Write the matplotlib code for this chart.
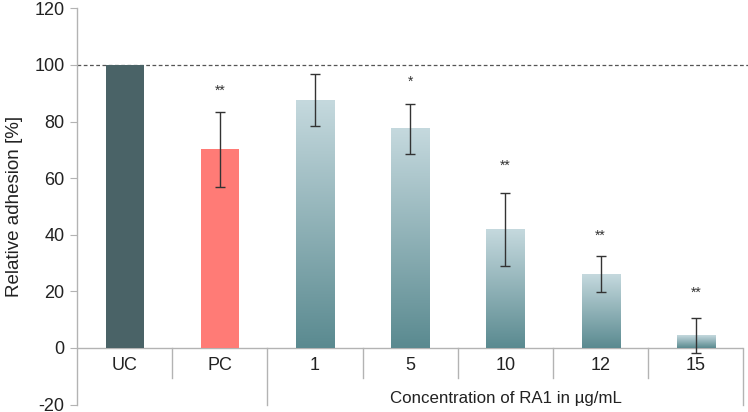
import numpy as np
import matplotlib
matplotlib.use("Agg")
import matplotlib.pyplot as plt
from matplotlib.colors import LinearSegmentedColormap

plt.rcParams['font.family'] = ['Liberation Sans', 'DejaVu Sans']
plt.rcParams['axes.unicode_minus'] = False

categories = ["UC", "PC", "1", "5", "10", "12", "15"]
values = [100, 70.2, 87.6, 77.4, 41.8, 26.1, 4.4]
errors = [0, 13.3, 9.2, 8.8, 13.0, 6.3, 6.1]
stars = ["", "**", "", "*", "**", "**", "**"]
star_y = [None, 91, None, 94, 64.5, 39.5, 19.5]
group_label = "Concentration of RA1 in µg/mL"
ylabel = "Relative adhesion [%]"
yticks = [-20, 0, 20, 40, 60, 80, 100, 120]

W, H = 748, 412
fig = plt.figure(figsize=(W / 100, H / 100), dpi=100)
ax = fig.add_axes([77 / W, 7.4 / H, (743.5 - 77) / W, (404.6 - 8.4) / H])

x = np.arange(len(categories))
ax.set_xlim(-0.5, len(categories) - 0.5)
ax.set_ylim(-20, 120)

axis_col = "#b3b3b3"
solid_colors = ["#4a6367", "#ff7b76"]
grad = LinearSegmentedColormap.from_list("g", ["#5a8a90", "#c5d9de"])

bars = ax.bar(x, values, width=0.4, color="none", edgecolor="none", zorder=2)
for i, b in enumerate(bars):
    x0, y0 = b.get_x(), b.get_y()
    w, h = b.get_width(), b.get_height()
    if i < 2:
        b.set_facecolor(solid_colors[i])
    else:
        g = np.linspace(0, 1, 256).reshape(-1, 1)
        ax.imshow(g, cmap=grad, origin="lower", aspect="auto",
                  extent=(x0, x0 + w, y0, y0 + h), zorder=2, interpolation="bicubic")

for i in range(1, len(categories)):
    ax.errorbar(x[i], values[i], yerr=errors[i], fmt="none", ecolor="#333333",
                elinewidth=1.0, capsize=3.5, capthick=1.0, zorder=3)
    if stars[i]:
        ax.text(x[i], star_y[i], stars[i], ha="center", va="center", fontsize=10, color="#333333")

# axes styling
for s in ["top", "right", "bottom"]:
    ax.spines[s].set_visible(False)
ax.spines["left"].set_color(axis_col)
ax.spines["left"].set_linewidth(1.0)
ax.set_yticks(yticks)
ax.tick_params(axis="y", colors=axis_col, length=5, labelsize=13, labelcolor="#222222", pad=4)
ax.set_xticks([])
ax.set_ylabel(ylabel, fontsize=13.5, color="#222222", labelpad=8)

# baseline at 0 and dashed reference at 100
ax.axhline(0, color=axis_col, lw=1.0, zorder=1)
ax.plot([-0.5, 6.6], [100, 100], ls=(0, (3, 2)), color="#555555", lw=0.9, zorder=1, clip_on=False)

# category separators
for sep in np.arange(0.5, len(categories) - 0.5 + 0.01, 1.0):
    if abs(sep - 1.5) < 1e-6 or abs(sep - 6.5) < 1e-6:
        ax.plot([sep, sep], [0, -20], color=axis_col, lw=1.0, clip_on=False)
    else:
        ax.plot([sep, sep], [0, -10.6], color=axis_col, lw=1.0, clip_on=False)

for i, c in enumerate(categories):
    ax.text(x[i], -6.3, c, ha="center", va="center", fontsize=13, color="#222222")

ax.text(4.0, -17.8, group_label, ha="center", va="center", fontsize=12.2, color="#222222")

fig.savefig("out.png", dpi=100)
